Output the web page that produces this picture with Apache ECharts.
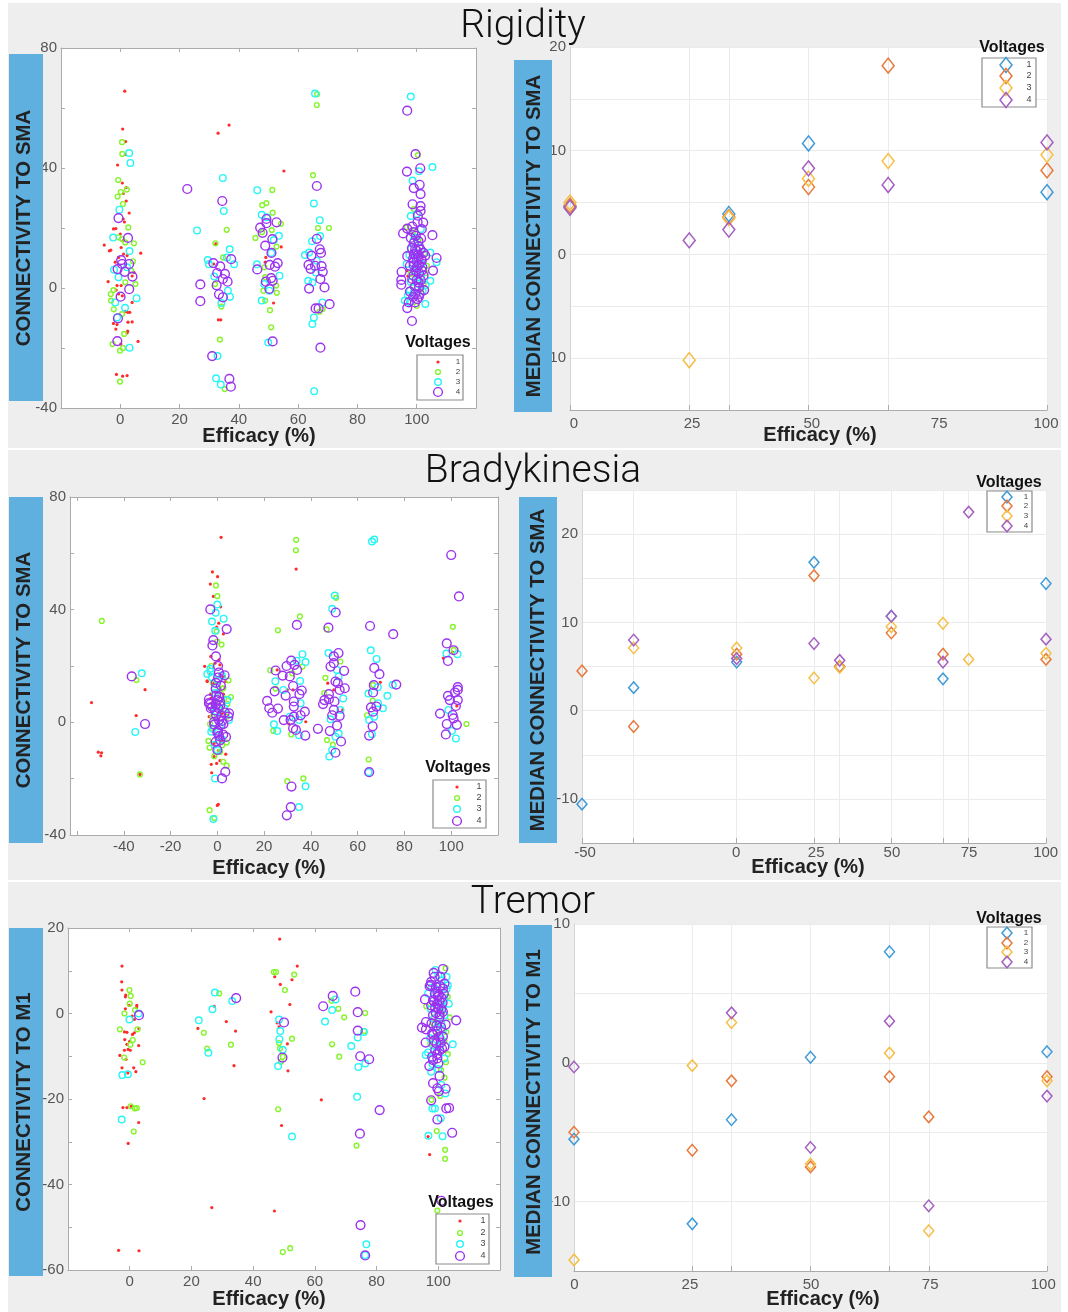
<!DOCTYPE html>
<html><head><meta charset="utf-8">
<style>html,body{margin:0;padding:0;background:#fff}#c{width:1068px;height:1312px}</style>
<script src="https://cdn.jsdelivr.net/npm/echarts@6/dist/echarts.min.js"></script>
</head><body><div id="c"></div>
<script>
const voltages = ['1','2','3','4'];

// Rigidity, individual connections
const rigV1 = [[1.5,65.6],[.8,53],[1.8,48.8],[1.7,44.5],[-.9,41],[.7,35],[2,33.5],[1,31.5],[2,29],[3,25],[1,23],[1.4,22],[-2.3,19.7],[-1.5,19.8],[-5.4,14.3],[-3.7,12.4],[-3.2,12.6],[6.9,11.6],[-1.7,8.6],[.3,13.5],[0,18],[1,15.8],[-.6,10.2],[1.1,11.3],[2.3,10.8],[4.6,5.2],[4,4],[-4.1,2.1],[-1.1,.8],[.3,.8],[-1.4,-.7],[-.6,-2],[.7,-2.6],[4,-4.8],[1.7,-7.8],[2.5,-8.1],[3.2,-8.1],[2.6,-11.4],[4,-11.3],[-2.3,-11.8],[-1.1,-12.2],[-1.5,-13.7],[2.5,-14.4],[2.3,-15],[6,-17.8],[.2,-18.7],[-1.3,-28.8],[.8,-29.4],[2.3,-29.2],[33,51.6],[36.7,54.3],[33.1,-10.6],[33.9,-10.6],[31.5,8],[32.2,14.7],[55.2,39],[54.3,13.7],[51.7,-5],[48.9,8.6],[49.1,10.2],[96.8,5.8],[97,4]];
const rigV2 = [[.6,48.6],[.7,44.7],[-.7,36],[.2,32],[2.2,32.8],[-.9,30.5],[.9,28],[2.7,20.2],[-.6,16.9],[.6,16.3],[1.7,15.2],[4.6,14.9],[4.3,8.9],[3.7,5.8],[5.1,1.3],[1.7,1.9],[-2.3,-.7],[-3.2,-2],[-3.1,-4.2],[-2.2,-7.1],[.6,-8.7],[1.3,-15.3],[-2.6,-18.7],[.9,-20],[-.1,-20.9],[-.1,-31.2],[32.1,14.9],[35.9,19.4],[34.7,10.2],[33.6,-17.2],[34.1,-6.2],[35.2,-33.7],[32,1.3],[51.3,32.7],[49.3,28.3],[47.9,27.6],[51.4,25.1],[54.2,21.4],[51.1,19.3],[45.6,16.7],[47.8,18.6],[52.7,13.8],[48.6,6.9],[48.9,3.6],[52.6,.8],[48.3,-.9],[52.8,-1.6],[48.9,-4.2],[50.5,-7.4],[50.9,-13.1],[66.4,64.6],[66.3,61],[65,37.6],[70.4,20],[66.7,20],[68.3,-7],[67.2,-7.9],[100.4,44.3],[99,26.3],[96.6,20.2],[100.6,16],[103.4,7.4],[100,-5.9],[98,4.7],[102.3,1.3],[99,19],[102.5,11.5],[101.5,-.5],[98.5,.5],[103,5]];
const rigV3 = [[3,45],[3.4,41.7],[-.3,26.1],[-2.4,16.8],[3.1,12.3],[-2.1,6.1],[-.6,3.6],[5.5,-3.4],[-1.7,-4.8],[1.6,-6.6],[3.1,-19.9],[-1.1,-9.8],[2.3,6.9],[34.6,36.7],[34.9,25.7],[25.9,19.2],[36.9,12.9],[29.5,9.3],[29.9,7.9],[38.4,7.9],[36,10.2],[31.7,3.8],[36.3,-.9],[37,-2.9],[34.1,-5],[32.8,-22.7],[32.3,-30.1],[33.9,-32.2],[46.2,32.6],[47.7,24.4],[49.4,23.6],[53.5,17.4],[51.8,16],[46.1,7.9],[53.7,4.1],[48.6,1.3],[47.7,-4.2],[49.9,-18.2],[50.3,-.9],[50.9,11.7],[65.7,64.8],[65.3,28.2],[67.3,22.6],[67.4,17.3],[64.7,15.6],[63.7,11.8],[62.3,11],[66.3,9.1],[63.4,2.4],[64.8,1.8],[66,5.2],[68.2,-4.8],[65.3,-9.8],[64.8,-12],[65.4,-34.4],[98,63.8],[105.3,40.3],[100.8,38.9],[98.6,35.8],[100,24.7],[98,24],[101.4,19.7],[104.6,11.8],[106.7,8.6],[96.6,8],[104.6,2.4],[96,-4.2],[102.9,-5.3],[97.7,-4.8],[100.6,1.3],[99.7,10.2],[98.9,15.8],[101.7,8],[98.9,5.8],[100.4,3.6],[97.7,-.9],[98,13],[99.7,16.8],[101,13.5],[97.5,11],[99.2,6.5],[101.5,4],[98,2],[102,-1],[99,-1.5],[100.5,7],[97,-2.5],[103,1]];
const rigV4 = [[-.6,23.3],[2.6,16.7],[.3,9.3],[3,8],[-.9,6.3],[1.5,5.4],[4.1,3.8],[3,-.4],[.1,-2.9],[-.8,-10.1],[-1,-17.7],[.6,8],[22.6,33],[34.4,29],[27,1.2],[27,-4.4],[31.4,8.3],[33.7,7.2],[37.4,9.6],[35.3,4.7],[32.7,5],[34.6,3],[36.2,2.1],[32.5,.9],[33.3,-2.1],[34.6,-3.1],[31,-22.7],[36.8,-30.3],[37.3,-32.9],[49.3,23],[49.3,21.6],[52.7,21.9],[47.2,20.1],[48,18.4],[51.3,16.3],[48.9,14.1],[51,11.7],[53.1,8.3],[50.4,7.7],[52.2,7.1],[46.2,6.2],[50.9,3.3],[49.1,2.1],[51.4,2.4],[50.3,-.3],[51.4,-17.8],[66.3,34],[66.3,16.4],[67.3,12.9],[64.5,10.8],[67.7,11.7],[63.5,7.7],[65.7,7.4],[67.9,7.3],[64.2,6.4],[68.3,5.4],[67.5,3],[68.9,.2],[63.7,-.2],[70.6,-5.4],[65.9,-6.8],[66.9,-6.8],[67.5,-19.9],[96.8,59.1],[99.6,44.6],[101.2,39.9],[96.7,38.8],[101,34.4],[99,33.3],[101.3,31.3],[98.6,27.9],[101.3,27.3],[101.3,25.7],[100.4,24.1],[102.2,21.8],[96.8,19.8],[95.4,18.2],[101.7,19.6],[105.3,17.6],[98.9,18.6],[99.7,17.4],[98,16.7],[100.6,15.6],[98.4,13.3],[100,12.4],[102.3,11.7],[102.9,10.8],[96.8,10.6],[106.7,10],[100.6,10.2],[98.9,8.6],[101.7,9.1],[97.7,7.4],[100,6.9],[94.9,5.4],[105.5,5.8],[101.7,5.8],[98.9,4.1],[102.3,4.1],[94.8,2.7],[94.8,1.1],[100.6,1.9],[102.5,-.7],[97.7,-1.2],[101,-2],[100.2,-3.7],[97.3,-4.8],[99.4,-4.8],[96.8,-6.7],[98.4,-11],[98.5,20.5],[100.3,22],[101.5,16.5],[99,15],[100.7,14],[99.5,13],[101.3,12.8],[99,11.3],[100.4,11],[101.6,9.6],[98.8,9.8],[100,9],[99,7.5],[100.8,7.8],[101.9,7],[99.7,5.8],[100.8,5],[98.5,3],[100,2.7],[101.4,2.5],[99.4,.5],[100.8,.3],[99.5,-2],[100.7,-3],[98.8,-3]];

// Rigidity, medians
const rigMed1 = [[0,4.6],[33.3,3.9],[50,10.7],[100,6]];
const rigMed2 = [[0,4.7],[33.3,3.6],[50,6.5],[66.7,18.2],[100,8.1]];
const rigMed3 = [[0,5],[25,-10.2],[33.3,3.5],[50,7.3],[66.7,9],[100,9.6]];
const rigMed4 = [[0,4.5],[25,1.35],[33.3,2.4],[50,8.3],[66.7,6.7],[100,10.8]];

// Bradykinesia, individual connections
const braV1 = [[1.6,65.7],[-2.1,53.4],[.1,51.7],[-3,49.1],[-1.7,44.7],[1.4,41],[.6,35.2],[-.3,33.8],[2.6,31.4],[-2.8,23.4],[.7,22.2],[-5.4,19.9],[1.1,20.4],[-4.3,14.5],[-1.4,13.9],[3.6,14.5],[-2.8,8.5],[1.4,11.5],[-1.4,5],[2.1,3.2],[-.7,-1.5],[1.4,-3.9],[-1.4,-7.5],[3.6,-11.3],[-1.4,-12.2],[1.1,-13.6],[-.3,-14.6],[-2.6,-14.9],[-2.4,-17.9],[.4,-29.1],[0,-29.5],[-53.8,7],[-50.9,-10.6],[-49.5,-10.8],[-49.8,-11.9],[-30.9,11.6],[-34.7,2.4],[-33.1,-18.5],[33.7,54.4],[37.8,.2],[25.6,18.6],[29.9,11.5],[32.4,11.5],[30.6,-.6],[47.2,13.9],[53.6,4.4],[49.8,11.5],[96.6,22.8],[100.6,24.9],[102.4,5.8],[69.7,14.2],[-3,17],[-4.4,14.7],[3,16.2],[2.6,10],[-2.9,10],[-1,21],[-2,7],[2,-6.6],[1.1,17],[.4,-10],[-3.5,2]];
const braV2 = [[-49.4,36],[-34.6,15],[-33.1,-18.5],[-.6,48.6],[0,44.8],[-.3,32.3],[0,28.7],[1.8,27.6],[-2.6,20],[4.8,14.9],[2.6,12.1],[5.8,9],[4.3,6.5],[-2.1,2],[-3.1,-.6],[-3.8,-6.6],[4,-7.2],[2.1,-8.1],[4,-15.4],[-3.3,-31.2],[-1.3,-34],[33.7,64.8],[33.6,61.1],[35.3,37.6],[25.9,32.7],[36.4,19.8],[22.6,18.5],[24.9,12],[32,17.4],[23.9,-3],[31.6,-4.3],[29.9,-20.9],[36.8,-19.9],[50.8,44.2],[46.7,33],[46.2,15.8],[45.7,10.4],[52.6,21.6],[46.9,-6.3],[49.4,-7.9],[64.7,-13.2],[64,2.5],[66.4,7.7],[66.6,13.3],[100.7,33.9],[101.1,25.7],[106.5,-.6],[-2,14],[1,11],[3,8.5],[2,12],[-2.3,-2],[4,2],[-1.3,-12],[2.5,-14],[-.9,7],[1.5,4.5],[-3.3,-9],[1.2,-10.5]];
const braV3 = [[-32.3,17.4],[-35.1,-3.4],[0,41.8],[-.7,38.9],[2.7,36.8],[-2.3,35.8],[-.9,32.5],[-4.3,17.2],[-2.8,18],[-1.1,11.7],[4.3,7.9],[-.3,3.8],[5,.8],[-2.6,-3.3],[0,-9.8],[-1,-19.9],[-1.7,-34.3],[36.4,24.2],[37.7,21.4],[33.9,21.9],[24.8,14.6],[28.2,11.5],[35.4,14.7],[35.6,6.8],[24.2,-.7],[25.6,-3.1],[31,2],[34.9,-4.6],[37.7,-22.7],[34.9,-30.1],[34.9,.8],[50.2,45],[49.1,40.3],[47.5,24.6],[51.1,18.6],[51.9,16.3],[53.8,8.5],[48.4,1.1],[50.5,-5.1],[51.9,-4],[49.1,-9.8],[47.9,-12.1],[52.6,4.4],[67.1,64.9],[66.1,64.2],[65.6,25.6],[68.1,22.5],[75,13.3],[72.7,9.4],[68.6,12.5],[64.6,10.2],[70.8,5],[68.7,6.8],[67.1,2],[64.9,.8],[66.1,-4.2],[64.7,-17.7],[97.9,24.4],[102.7,24.2],[98.8,4.4],[100.3,-3],[102,-5.7],[-3,19],[-2.3,16],[.4,15],[-1,10.4],[2,-6],[1,-1.5],[-1.2,-8],[.5,-4.9],[-.9,4],[3,5],[2,16.6],[-2,-2.3]];
const braV4 = [[-36.6,16.3],[-30.9,-.6],[-3,40.1],[4,33.1],[-1.7,29.2],[-2.1,27.3],[-.6,23.4],[.3,20],[.7,17.7],[3.1,16.7],[.3,15.9],[-.7,12],[.7,9.1],[-3.6,8.2],[-3.6,6.8],[0,7.9],[1.1,7.4],[-.7,6.2],[-2.8,5],[5,3.2],[4.7,2],[1.7,2.3],[.7,.8],[2.6,-.6],[-1.4,.2],[.3,-3],[.7,-4.9],[3.7,-5.2],[-.7,-6.9],[0,-9.8],[3.4,-17.6],[2,-19.9],[34,34.6],[31.6,21.9],[29.6,20],[33,20.4],[24.9,18.4],[27.9,16.6],[31,16.3],[34.1,18.6],[32.4,12.9],[24.5,11],[36.1,11.3],[29.2,9.5],[35.1,10],[32.7,7.4],[21.3,7.6],[32.7,5.6],[22.2,5],[25.9,4.9],[23.5,3.4],[37.4,3.8],[35.6,2.5],[32.7,2],[28.4,.8],[31.3,.8],[32.4,-2.1],[33.6,-2.7],[37.6,-4.7],[43,-2.3],[31.7,-22.8],[31.4,-30.1],[29.7,-33],[50.6,39],[47.5,33.6],[51.8,24.6],[49.8,23.4],[49.8,21],[48.4,19.8],[54.2,18.3],[50.5,14.5],[51.5,13.9],[54.5,12.1],[52.3,11.5],[47.7,10],[45.8,7.9],[45.2,6.5],[50.1,7.4],[47.7,8.2],[49.8,4.4],[49.1,2.5],[52.3,2.3],[51.2,-1.1],[48.1,-3.1],[52.9,-6.8],[50.5,-10.8],[65.3,34.2],[75.2,31.3],[67.1,19.3],[69.3,17.1],[76.5,13.4],[66.9,13.2],[66.6,10.6],[65.7,5.3],[68,5.6],[66.6,3.8],[66.4,-1.4],[64.9,-4.7],[64.9,-17.7],[100,59.4],[103.3,44.7],[98.1,28],[101,25.6],[98.6,21.8],[102.8,12.5],[102.8,11.5],[101.6,10.6],[98.6,9.4],[99.4,7.9],[102.8,7.9],[102,5.8],[95.2,3.1],[100.6,2.6],[101,1.4],[98.1,-.6],[102.4,-.9],[97.7,-4.3],[-3,6.5],[-2.2,5.5],[-.5,9.5],[.5,5],[1.2,6],[-1,4.2],[.8,9],[2,.5],[3.2,3.5],[1.4,-1],[-1.3,-.8],[1.2,-6.4],[2.5,-4.4],[0,-3.6],[-.6,14],[1.5,13],[-.5,2.5]];

// Bradykinesia, medians
const braMed1 = [[-50,-10.6],[-33.3,2.6],[0,5.5],[25,16.8],[33.3,5],[50,10.7],[66.7,3.6],[100,14.4]];
const braMed2 = [[-50,4.5],[-33.3,-1.8],[0,6.4],[25,15.3],[33.3,5],[50,8.8],[66.7,6.4],[100,5.8]];
const braMed3 = [[-33.3,7.1],[0,7.1],[25,3.7],[33.3,4.9],[50,9.5],[66.7,9.9],[75,5.8],[100,6.5]];
const braMed4 = [[-33.3,8],[0,5.9],[25,7.6],[33.3,5.7],[50,10.7],[66.7,5.5],[75,22.5],[100,8.1]];

// Tremor, individual connections
const treV1 = [[-2.5,11.1],[-2.6,7.4],[-2.5,5.5],[-1.3,4.3],[-1.4,3.9],[-.2,1.9],[-1.4,1.1],[2.3,1.9],[2.2,1.4],[.8,-.6],[1.5,-1.4],[3,-3.5],[-1.7,-4.3],[-.9,-4.4],[1.5,-4.5],[.9,-4.9],[-1.6,-6.1],[0,-6.5],[-.9,-7.2],[2.9,-7.5],[-1.7,-8.6],[-.5,-8.4],[.2,-8.6],[-3.2,-9.8],[-1.2,-10.7],[-2.5,-12.7],[1.3,-12.7],[2,-13.6],[-.6,-13.9],[-2.2,-22],[-.9,-22],[.5,-21.7],[2.9,-25.5],[-.5,-30.4],[-3.6,-55.4],[3,-55.5],[27.4,1.7],[22.1,-3.5],[31.3,-1.9],[34.3,-4.1],[33.8,-12.2],[24.1,-19.9],[26.6,-45.4],[48.6,17.4],[54.3,11.1],[52.6,7.9],[47,8.6],[48.8,6.8],[51.9,2.1],[45.8,.4],[47.8,-2.2],[48.4,-3.1],[51.1,-7.1],[51.3,-13.4],[49.2,-26.2],[46.9,-46.2],[62.1,-20.2],[96.7,-28.8],[97.2,-33],[101,0],[99.4,-2.3],[98.3,2.3],[100.4,-9.3]];
const treV2 = [[-.1,5.5],[.3,4.1],[0,2.3],[1.7,.8],[-1.7,0],[-3.2,-3.7],[2.5,-3.7],[1,-6.2],[.2,-7.3],[-1.8,-10.3],[4.2,-11.4],[.3,-21.7],[1.7,-22.2],[2.3,-22.1],[1.3,-27.6],[29,4.7],[24,-4.5],[25.1,-8.2],[32.8,-7.3],[46.7,9.7],[47.4,9.7],[53.3,9.1],[50.3,5.5],[52.6,-5.9],[48.4,-6.9],[48.7,-8.2],[49.6,-10.1],[49,-11.3],[48.1,-22.4],[49.6,-55.8],[52,-54.9],[65.4,3],[67.6,1.1],[69.5,-.9],[65.6,-7.2],[67.9,-10.1],[76.3,.1],[76,-4.1],[73.5,-30.9],[102.4,10.6],[103.1,3.9],[96.1,1.7],[98.3,-2.3],[102.6,-4.3],[103.1,-9.5],[100.9,-13.2],[102,-15],[100.6,-19.3],[97.8,-20.2],[99.5,-27.5],[102.2,-31.9],[102.2,-34],[99.7,-46.1],[103.7,-.9],[102,-6.4],[98.6,-.9],[101.6,.6],[99.5,-5.1],[102.5,-11.4],[97.4,-7]];
const treV3 = [[2.9,0],[-.1,-1.4],[-2.4,-14.4],[-.6,-14.2],[-2.6,-24.8],[27.6,4.9],[26.8,1],[22.4,-1.6],[25.5,-9.2],[33.2,2.9],[48.4,-1.4],[48.8,-4.1],[48.5,-6],[49.6,-8.5],[48.1,-12.3],[52.6,-28.8],[66.7,3.3],[65.6,.8],[63.3,-1.9],[71.8,-7.6],[73.9,-5.6],[75.9,-4.3],[76.3,-11.7],[74.1,-12.5],[73.7,-19.5],[76.7,-54],[76.3,-56.5],[99.1,10.2],[102.7,8.6],[103.1,6.6],[102.7,5.8],[96.7,4.7],[103.4,2.3],[98.3,3.5],[101.5,1.6],[101,-2.3],[104.7,-7.2],[97.4,-5.8],[95.9,-9.7],[96.7,-9.1],[97.7,-13.6],[101,-16.7],[102.3,-18.7],[98.1,-22.2],[98.9,-22.2],[100.8,-24.5],[96.8,-28.6],[101.4,-28.7],[100.4,-7.8],[99.7,-3.1],[102,-.4],[97.8,6.1],[100,9],[101,7.7],[98.9,5.8],[97.6,1],[100.8,1.7],[102,3.5],[98.6,-1.2],[100,-2.5],[101.5,-4],[98.3,-7.4],[101,-6],[99.5,-8.9],[102,-10.5],[98.1,-11.8],[100,-13]];
const treV4 = [[3,-.4],[34.5,3.6],[50,-2.1],[49.5,-10.3],[65.8,4.1],[62.7,1.7],[73.1,5.1],[73.9,.3],[73.9,-4],[74.7,-10],[77.6,-10.7],[81,-22.6],[74.6,-28.1],[74.8,-49.5],[76.3,-56.6],[101.5,10.4],[98.8,8.6],[97.7,7.4],[97.2,6.4],[102,7],[101.5,5.8],[99.7,5.1],[95.7,3.3],[98.3,3.1],[99.9,3.9],[101,3.7],[97.7,1.9],[99.7,2.3],[101.5,.4],[98.3,-.4],[100.4,-.8],[105.8,-1.6],[96,-2],[102.4,-2.6],[94.7,-3.3],[96,-3.7],[99.7,-4.1],[98,-4.7],[95.9,-6.8],[99.4,-7],[102,-7.8],[100.4,-8.7],[98,-10.1],[99.7,-10.5],[98.3,-10.9],[100,-11.7],[97.1,-12.3],[100.4,-14.6],[98.3,-16.3],[102.4,-17.6],[99.7,-17.5],[100.2,-18.2],[97.7,-20.3],[102.6,-22.2],[103.5,-22.1],[99.7,-24.8],[104.5,-27.9],[101,-43.8],[98.5,9.5],[100.7,8.6],[97.5,6.7],[99.2,6.2],[100.6,6.4],[98.9,4.6],[100.2,4.4],[101.8,4.6],[98.6,2.8],[100.4,2.9],[101.4,2.5],[99,1.4],[100,1.2],[101,1],[99.2,.1],[100.4,-.2],[97.8,-2.3],[99.4,-2.8],[100.9,-3.2],[98.4,-5],[100.2,-5.5],[101.5,-5.4],[98.6,-6.3],[100.8,-6.8],[99,-8.6],[101.2,-8.2],[99.6,-9.5]];

// Tremor, medians
const treMed1 = [[0,-5.5],[25,-11.6],[33.3,-4.1],[50,.4],[66.7,8],[100,.8]];
const treMed2 = [[0,-5],[25,-6.3],[33.3,-1.3],[50,-7.5],[66.7,-1],[75,-3.9],[100,-1]];
const treMed3 = [[0,-14.2],[25,-.2],[33.3,2.9],[50,-7.3],[66.7,.7],[75,-12.1],[100,-1.3]];
const treMed4 = [[0,-.3],[33.3,3.6],[50,-6.1],[66.7,3],[75,-10.3],[100,-2.4]];

// tick labels
const scatterXTicksA = [0,20,40,60,80,100];
const scatterXTicksC = [-40,-20,0,20,40,60,80,100];
const yLabelsSma = [80,40,0,-40];
const yLabelsM1 = [20,0,-20,-40,-60];
const medianYLabelsB = [20,10,0,-10];
const medianYLabelsD = [20,10,0,-10];
const medianYLabelsF = [10,0,-10];
const efficacyLabels = ['0','25','50','75','100'];
const efficacyLabelsD = ['-50','0','25','50','75','100'];
const gridXB = [0,25,33.3,50,66.7,100];
const gridXD = [-50,-33.3,0,25,33.3,50,66.7,75,100];
const gridXF = [0,25,33.3,50,66.7,75,100];

const ink = '#555', frame = '#ababab';
const ring = ['#ff2a2a','#86f52c','#27f5f5','#9a32f0'];
const ringSize = [3.2,4.8,6.6,8.8];
const dia = ['#3f9bd8','#e8793c','#f5bf45','#a45fc0'];

const grid=[],xAxis=[],yAxis=[],series=[],graphic=[];

function bgRect(x,y,w,h,fill,z){graphic.push({type:'rect',silent:true,z:z,shape:{x,y,width:w,height:h},style:{fill}});}
function txt(t,x,y,size,weight,color,align,rot,fam){
  graphic.push({type:'text',silent:true,z:120,x,y,rotation:rot||0,style:{text:t,fill:color,font:`${weight} ${size}px ${fam||'"Liberation Sans"'}`,align:align||'center',verticalAlign:'middle'}});
}
bgRect(8,3,1053,445,'#eeeeee',-10);
bgRect(8,450,1053,430,'#eeeeee',-10);
bgRect(8,882,1053,430,'#eeeeee',-10);

function side(p){return {left:p[0],top:p[2],width:p[1]-p[0],height:p[3]-p[2]};}

function scatterPanel(p,xr,xTicks,xLabels,yr,yStep,yLabels,data){
  const g=grid.length;
  grid.push(Object.assign(side(p),{show:true,backgroundColor:'#fff',borderWidth:0}));
  const xi=xAxis.length, yi=yAxis.length;
  const xb={type:'value',gridIndex:g,min:xr[0],max:xr[1],splitLine:{show:false},axisLine:{onZero:false,lineStyle:{color:frame}}};
  xAxis.push(Object.assign({},xb,{position:'bottom',axisTick:{inside:true,length:4,customValues:xTicks,lineStyle:{color:frame}},
    axisLabel:{customValues:xLabels,color:ink,fontSize:15,margin:4,fontFamily:'Liberation Sans'}}));
  xAxis.push(Object.assign({},xb,{position:'top',axisTick:{inside:true,length:4,customValues:xTicks,lineStyle:{color:frame}},axisLabel:{show:false}}));
  const yb={type:'value',gridIndex:g,min:yr[0],max:yr[1],interval:yStep,splitLine:{show:false},axisLine:{onZero:false,lineStyle:{color:frame}}};
  yAxis.push(Object.assign({},yb,{position:'left',axisTick:{inside:true,length:4,lineStyle:{color:frame}},
    axisLabel:{customValues:yLabels,color:ink,fontSize:15,margin:4,fontFamily:'Liberation Sans'}}));
  yAxis.push(Object.assign({},yb,{position:'right',axisTick:{inside:true,length:4,lineStyle:{color:frame}},axisLabel:{show:false}}));
  data.forEach((d,i)=>series.push({type:'scatter',name:voltages[i],xAxisIndex:xi,yAxisIndex:yi,data:d,symbol:'circle',symbolSize:ringSize[i],clip:false,silent:true,z:2+i,
    itemStyle:i===0?{color:ring[0],opacity:1}:{color:'rgba(0,0,0,0)',borderColor:ring[i],borderWidth:1.4,opacity:1}}));
}

function medianPanel(p,xr,gridX,labelAt,labels,labelMargin,yr,yStep,yLabels,data,dsize){
  const g=grid.length;
  grid.push(Object.assign(side(p),{show:true,backgroundColor:'#fff',borderWidth:0}));
  const xi=xAxis.length, yi=yAxis.length;
  xAxis.push({type:'value',gridIndex:g,min:xr[0],max:xr[1],position:'bottom',
    splitLine:{show:true,customValues:gridX,lineStyle:{color:'#ebebeb'}},
    axisLine:{onZero:false,lineStyle:{color:frame,width:1.2}},
    axisTick:{inside:true,length:5,customValues:gridX,lineStyle:{color:frame}},
    axisLabel:{customValues:labelAt,formatter:(v)=>labels[labelAt.indexOf(v)],color:ink,fontSize:15,margin:labelMargin,fontFamily:'Liberation Sans'}});
  yAxis.push({type:'value',gridIndex:g,min:yr[0],max:yr[1],interval:yStep,position:'left',
    splitLine:{show:true,lineStyle:{color:'#ebebeb'}},
    axisLine:{onZero:false,show:true,lineStyle:{color:'#d5d5d5'}},axisTick:{show:false},
    axisLabel:{customValues:yLabels,color:ink,fontSize:15,margin:4,fontFamily:'Liberation Sans'}});
  data.forEach((d,i)=>series.push({type:'scatter',name:voltages[i],xAxisIndex:xi,yAxisIndex:yi,data:d,symbol:'diamond',symbolSize:dsize,clip:false,silent:true,z:2+i,
    itemStyle:{color:'rgba(0,0,0,0)',borderColor:dia[i],borderWidth:1.5,opacity:1}}));
}

function blueLabel(x0,x1,y0,y1,t,cx,cy){
  bgRect(x0,y0,x1-x0,y1-y0,'#5fb0de',100);
  txt(t,cx,cy,20.4,'bold','#222','center',Math.PI/2);
}
function effic(cx,cy){txt('Efficacy (%)',cx,cy,20,'bold','#222');}

function legendBox(titleX,titleY,box,rows,mx,lx,kind,dsize,lfont){
  txt('Voltages',titleX,titleY,16,'bold','#111');
  graphic.push({type:'rect',silent:true,z:110,shape:{x:box[0],y:box[1],width:box[2]-box[0],height:box[3]-box[1]},style:{fill:'#fff',stroke:'#8c8c8c',lineWidth:1.2}});
  rows.forEach((y,i)=>{
    if(kind==='ring'){
      const r=ringSize[i]/2;
      graphic.push({type:'circle',silent:true,z:115,shape:{cx:mx,cy:y,r},style:i===0?{fill:ring[0]}:{fill:'none',stroke:ring[i],lineWidth:1.4}});
    } else {
      const w=dsize[0]/2,h=dsize[1]/2;
      graphic.push({type:'polygon',silent:true,z:115,shape:{points:[[mx,y-h],[mx+w,y],[mx,y+h],[mx-w,y]]},style:{fill:'none',stroke:dia[i],lineWidth:1.5}});
    }
    txt(voltages[i],lx,y,lfont,'normal','#444');
  });
}

// panels
scatterPanel([61,476,48,408],[-20,120],[0,20,40,60,80,100],scatterXTicksA,[-40,80],20,yLabelsSma,[rigV1,rigV2,rigV3,rigV4]);
medianPanel([570,1047,47,410],[0,100],gridXB,[0.8,25.6,50.7,77.4,99.8],efficacyLabels,6,[-15,20],5,medianYLabelsB,[rigMed1,rigMed2,rigMed3,rigMed4],[12,15]);
scatterPanel([70,498,497,835],[-63,120],[-60,-40,-20,0,20,40,60,80,100],scatterXTicksC,[-40,80],20,yLabelsSma,[braV1,braV2,braV3,braV4]);
medianPanel([582,1046,490,843],[-50,100],gridXD,[-49,-0.2,25.7,50.2,75.1,99.9],efficacyLabelsD,2,[-15,25],5,medianYLabelsD,[braMed1,braMed2,braMed3,braMed4],[10,11.5]);
scatterPanel([68,500,928,1270],[-20,120],[0,20,40,60,80,100],scatterXTicksA,[-60,20],10,yLabelsM1,[treV1,treV2,treV3,treV4]);
medianPanel([574,1047,924,1271],[0,100],gridXF,[0.1,24.5,50.1,75.3,99.2],efficacyLabels,6,[-15,10],5,medianYLabelsF,[treMed1,treMed2,treMed3,treMed4],[10,11.5]);

// titles
const titleFont='Roboto';
txt('Rigidity',523,27,39,'300','#111','center',0,titleFont);
txt('Bradykinesia',533,472,39,'300','#111','center',0,titleFont);
txt('Tremor',533,903,39,'300','#111','center',0,titleFont);

blueLabel(9,43,54,401,'CONNECTIVITY TO SMA',24,228);
blueLabel(514,552,60,412,'MEDIAN CONNECTIVITY TO SMA',534,236);
blueLabel(9,43,497,843,'CONNECTIVITY TO SMA',24,670);
blueLabel(519,557,497,843,'MEDIAN CONNECTIVITY TO SMA',538,670);
blueLabel(9,43,928,1276,'CONNECTIVITY TO M1',24,1102);
blueLabel(514,552,925,1277,'MEDIAN CONNECTIVITY TO M1',534,1102);

effic(259,436);effic(820,435);effic(269,868);effic(808,867);effic(269,1299);effic(823,1299);

legendBox(438,343,[417,355,463,400],[362,372,382,392],438,458,'ring',null,8);
legendBox(1012,48,[982,58,1036,107],[65,76,88,100],1006,1029,'dia',[12,15],9);
legendBox(458,768,[433,780,486,828],[787,798,809,821],457,479,'ring',null,9);
legendBox(1009,483,[987,491,1032,532],[497,506,516,526],1007,1026,'dia',[10,11.5],8);
legendBox(461,1203,[436,1214,489,1264],[1221,1233,1244,1256],460,483,'ring',null,9);
legendBox(1009,919,[987,927,1032,968],[933,943,952,962],1007,1026,'dia',[10,11.5],8);

const chart=echarts.init(document.getElementById('c'),null,{renderer:'canvas'});
chart.setOption({animation:false,backgroundColor:'#fff',grid,xAxis,yAxis,series,graphic:{elements:graphic}});
</script></body></html>
